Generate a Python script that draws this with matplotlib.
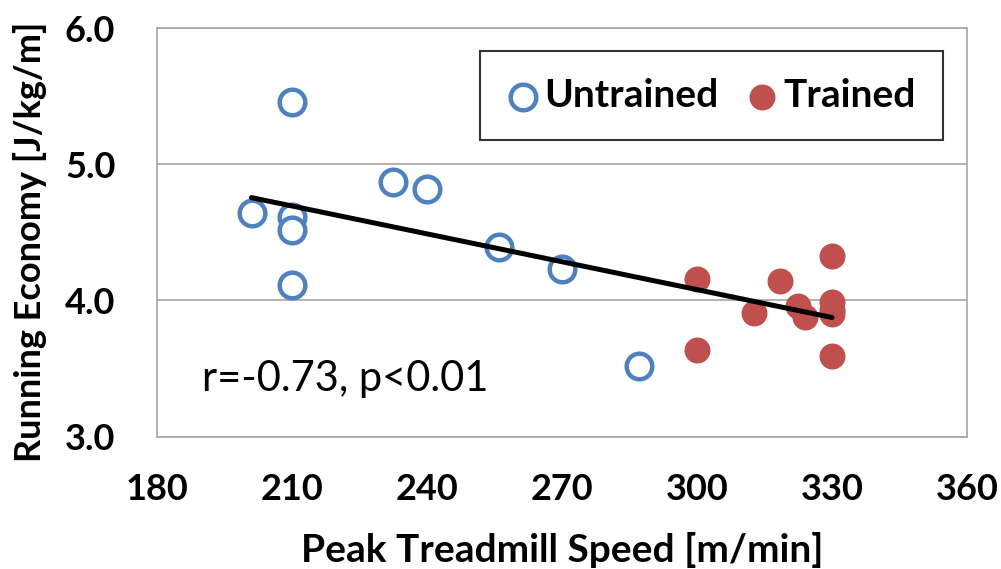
import matplotlib
matplotlib.use("Agg")
from matplotlib import pyplot as plt

# peak treadmill speed [m/min] and running economy [J/kg/m]
untrained_speed = [210, 201, 210, 210, 210, 232.5, 240, 256, 270, 287]
untrained_re = [5.46, 4.64, 4.61, 4.52, 4.11, 4.87, 4.82, 4.39, 4.23, 3.52]

trained_speed = [300, 300, 312.7, 318.4, 322.4, 324, 330, 330, 330, 330, 330]
trained_re = [4.16, 3.64, 3.91, 4.14, 3.96, 3.88, 4.33, 3.99, 3.93, 3.90, 3.59]

# regression line end points
fit_speed = [201, 330]
fit_re = [4.755, 3.875]

x_ticks = [180, 210, 240, 270, 300, 330, 360]
y_ticks = [3.0, 4.0, 5.0, 6.0]

BLUE = "#4F81BD"
RED = "#C0504D"
FONT = "Lato"

plt.rcParams["font.family"] = [FONT, "DejaVu Sans"]

fig = plt.figure(figsize=(10.01, 5.69), dpi=100)
ax = fig.add_axes([157 / 1001, 1 - 436.7 / 569, 810 / 1001, 408.7 / 569])

ax.scatter(untrained_speed, untrained_re, s=340, facecolors="white",
           edgecolors=BLUE, linewidths=3.2, label="Untrained", zorder=3)
ax.scatter(trained_speed, trained_re, s=350, color=RED, linewidths=0,
           label="Trained", zorder=3)
ax.plot(fit_speed, fit_re, color="black", linewidth=3.6, zorder=4,
        solid_capstyle="round")

ax.set_xlim(180, 360)
ax.set_ylim(3.0, 6.0)
ax.set_xticks(x_ticks)
ax.set_yticks(y_ticks)
ax.set_yticklabels(["%.1f" % v for v in y_ticks])
ax.tick_params(length=0)
ax.tick_params(axis="x", pad=26, labelsize=26)
ax.tick_params(axis="y", pad=30, labelsize=26)
for lab in ax.get_xticklabels() + ax.get_yticklabels():
    lab.set_fontweight("bold")

ax.grid(axis="y", color="#a6a6a6", linewidth=1.2)
ax.set_axisbelow(True)
for sp in ax.spines.values():
    sp.set_color("#a6a6a6")
    sp.set_linewidth(1.2)

ax.set_xlabel("Peak Treadmill Speed [m/min]", fontsize=28, fontweight="bold",
              va="center")
ax.xaxis.set_label_coords(0.5, -0.277)
ax.set_ylabel("Running Economy [J/kg/m]", fontsize=26, fontweight="bold",
              va="center")
ax.yaxis.set_label_coords(-0.157, 0.476)

ax.text(190, 3.42, "r=-0.73, p<0.01", fontsize=30, va="center", ha="left")

leg = ax.legend(loc="upper right", ncol=2, frameon=True,
                bbox_to_anchor=(943 / 1001, 1 - 51 / 569),
                bbox_transform=fig.transFigure, borderaxespad=0,
                handletextpad=0.16, columnspacing=0.7, borderpad=0.7,
                handlelength=0.8, fancybox=False,
                prop={"weight": "bold", "size": 28})
leg.get_frame().set_edgecolor("black")
leg.get_frame().set_linewidth(1.5)

fig.savefig("out.png", dpi=100)
